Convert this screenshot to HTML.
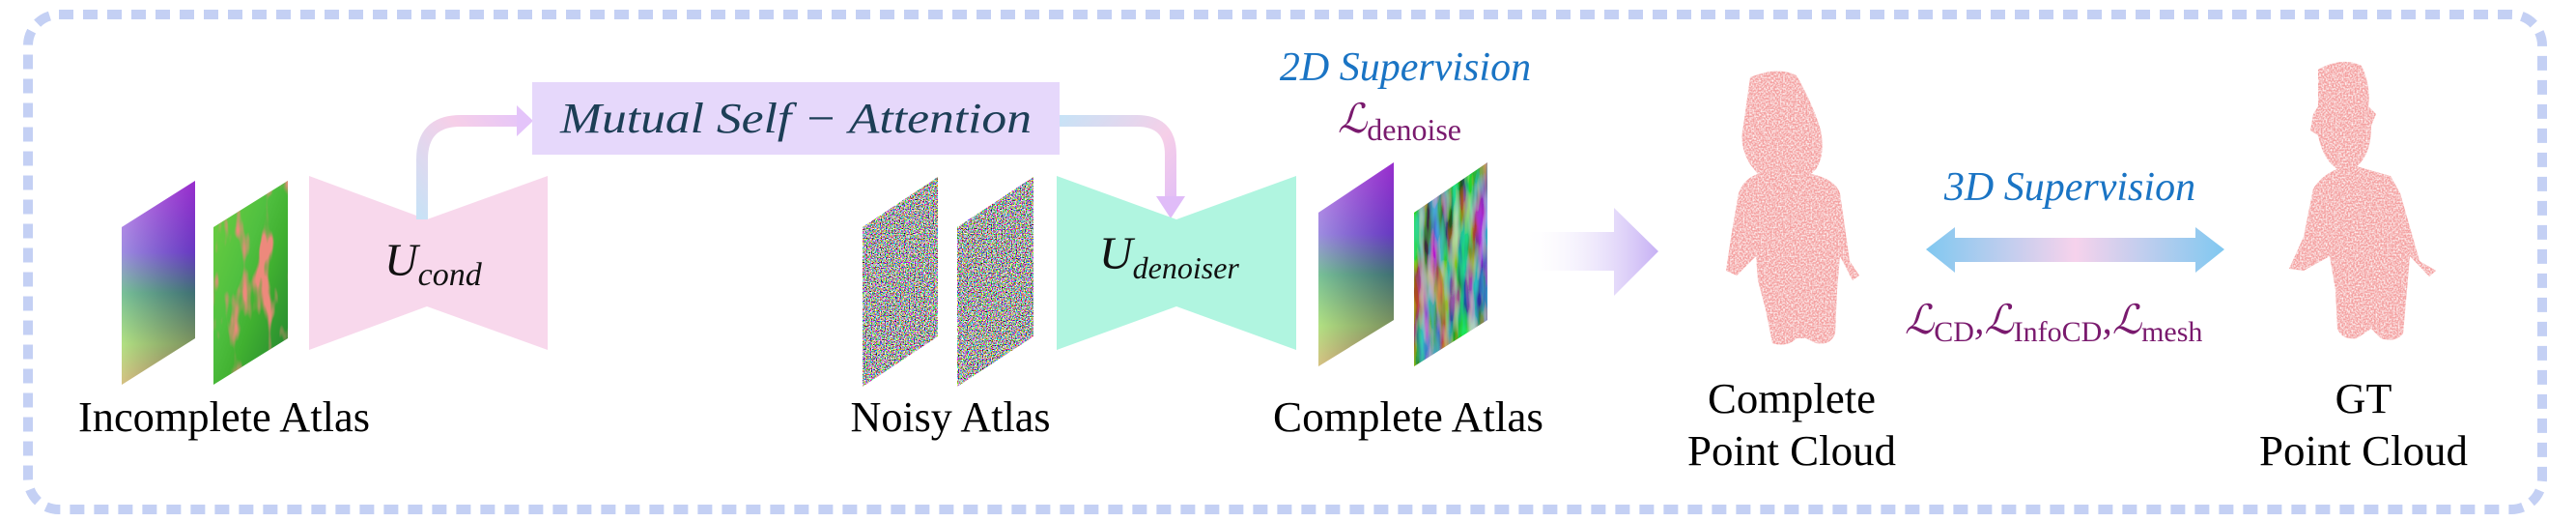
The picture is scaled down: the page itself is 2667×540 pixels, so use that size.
<!DOCTYPE html>
<html><head><meta charset="utf-8"><style>
html,body{margin:0;padding:0;background:#fff;}
svg{display:block;}
svg text, svg tspan{font-family:"Liberation Serif","DejaVu Serif",serif !important;}
</style></head><body>
<svg width="2667" height="540" viewBox="0 0 2667 540" xmlns="http://www.w3.org/2000/svg" font-family="'Liberation Serif', 'Times New Roman', 'DejaVu Serif', serif">
<defs>
<linearGradient id="g1" x1="0" y1="0" x2="0" y2="1"><stop offset="0" stop-color="#b040e0"/><stop offset="0.35" stop-color="#6a50d0"/><stop offset="0.55" stop-color="#30a060"/><stop offset="0.8" stop-color="#88d040"/><stop offset="1" stop-color="#c0a040"/></linearGradient>
<linearGradient id="g1h" x1="0" y1="0" x2="1" y2="0"><stop offset="0" stop-color="#ffffff" stop-opacity="0.35"/><stop offset="1" stop-color="#6000a0" stop-opacity="0.3"/></linearGradient>
<linearGradient id="g2" x1="0" y1="0" x2="1" y2="1"><stop offset="0" stop-color="#70d040"/><stop offset="0.4" stop-color="#50c040"/><stop offset="0.6" stop-color="#40b030"/><stop offset="1" stop-color="#208030"/></linearGradient>
<linearGradient id="g3" x1="0" y1="0" x2="1" y2="0"><stop offset="0" stop-color="#60b040"/><stop offset="0.3" stop-color="#a030c0"/><stop offset="0.5" stop-color="#50c040"/><stop offset="0.7" stop-color="#40c040"/><stop offset="1" stop-color="#8040d0"/></linearGradient>
<linearGradient id="ga1" gradientUnits="userSpaceOnUse" x1="437" y1="227" x2="551" y2="125"><stop offset="0" stop-color="#c8e2f6"/><stop offset="0.6" stop-color="#f6cfe8"/><stop offset="1" stop-color="#e4c4fa"/></linearGradient>
<linearGradient id="ga2" gradientUnits="userSpaceOnUse" x1="1097" y1="125" x2="1212" y2="227"><stop offset="0" stop-color="#c8e2f6"/><stop offset="0.6" stop-color="#f6cfe8"/><stop offset="1" stop-color="#e0bcf8"/></linearGradient>
<linearGradient id="gb" x1="0" y1="0" x2="1" y2="0"><stop offset="0" stop-color="#ffffff" stop-opacity="0"/><stop offset="1" stop-color="#c6b0f4"/></linearGradient>
<linearGradient id="gd" x1="0" y1="0" x2="1" y2="0"><stop offset="0" stop-color="#80c8f0"/><stop offset="0.5" stop-color="#f6d2ec"/><stop offset="1" stop-color="#80c8f0"/></linearGradient>
<filter id="noise" x="0" y="0" width="1" height="1"><feTurbulence type="fractalNoise" baseFrequency="0.8" numOctaves="1" seed="3"/><feColorMatrix type="matrix" values="5 0 0 0 -2  0 5 0 0 -2  0 0 5 0 -2  0 0 0 0 1"/></filter>
<filter id="tex" x="0" y="0" width="1" height="1"><feTurbulence type="fractalNoise" baseFrequency="0.06 0.015" numOctaves="3" seed="7"/><feColorMatrix type="matrix" values="0 0 0 0 0.85  0 0 0 0 0.25  0 0 0 0 0.2  0 0 0 7 -3.8"/></filter>
<filter id="tex2" x="0" y="0" width="1" height="1"><feTurbulence type="fractalNoise" baseFrequency="0.1 0.015" numOctaves="3" seed="11"/><feColorMatrix type="matrix" values="3 0 0 0 -1.3  0 3 0 0 -1.0  0 0 3 0 -1.1  0 0 0 0 0.55"/></filter>
<filter id="speck"><feTurbulence type="fractalNoise" baseFrequency="0.6" numOctaves="1" seed="5" result="t"/><feColorMatrix in="t" type="matrix" values="0 0 0 0 1  0 0 0 0 1  0 0 0 0 1  0 0 0 -2.2 1.35" result="m"/><feComposite in="m" in2="SourceGraphic" operator="in" result="w"/><feMerge><feMergeNode in="SourceGraphic"/><feMergeNode in="w"/></feMerge></filter>
<clipPath id="cn1"><polygon points="893,235 971,183 971,348 893,400"/></clipPath>
<clipPath id="cn2"><polygon points="991,235 1070,183 1070,348 991,400"/></clipPath>
<clipPath id="ca2"><polygon points="221,235 298,187 298,350 221,398"/></clipPath>
<clipPath id="cc2"><polygon points="1464,220 1540,168 1540,331 1464,379"/></clipPath>
</defs>

<rect x="29" y="15" width="2603" height="512" rx="32" fill="none" stroke="#c4d0f4" stroke-width="10" stroke-dasharray="15 10"/>

<polygon points="126,235 202,187 202,350 126,398" fill="url(#g1)"/>
<polygon points="126,235 202,187 202,350 126,398" fill="url(#g1h)"/>
<polygon points="221,235 298,187 298,350 221,398" fill="url(#g2)"/>
<g clip-path="url(#ca2)"><rect x="221" y="187" width="77" height="211" filter="url(#tex)"/></g>

<polygon points="320,182 442,227 567,182 567,362 442,317 320,362" fill="#f8d8ec"/>
<text x="398" y="285" font-size="48" font-style="italic" fill="#111">U<tspan font-size="34" dy="10">cond</tspan></text>

<path d="M437,227 V165 Q437,125 477,125 H537" fill="none" stroke="url(#ga1)" stroke-width="12"/>
<polygon points="535,109 552,125 535,141" fill="#e4c4fa"/>

<rect x="551" y="85" width="546" height="75" fill="#e6d8fb"/>
<text x="824" y="137" font-size="44" font-style="italic" fill="#1d3e56" text-anchor="middle" textLength="488" lengthAdjust="spacingAndGlyphs">Mutual Self − Attention</text>

<path d="M1097,125 H1177 Q1212,125 1212,160 V207" fill="none" stroke="url(#ga2)" stroke-width="12"/>
<polygon points="1197,203 1227,203 1212,226" fill="#e0bcf8"/>

<g clip-path="url(#cn1)"><rect x="893" y="183" width="78" height="217" filter="url(#noise)"/></g>
<g clip-path="url(#cn2)"><rect x="991" y="183" width="79" height="217" filter="url(#noise)"/></g>

<polygon points="1094,182 1218,227 1342,182 1342,362 1218,317 1094,362" fill="#b0f5e0"/>
<text x="1138" y="278" font-size="48" font-style="italic" fill="#111">U<tspan font-size="32" dy="10">denoiser</tspan></text>

<text x="1455" y="83" font-size="42" font-style="italic" fill="#1a74c4" text-anchor="middle">2D Supervision</text>
<text x="1385" y="137" font-size="42" font-style="italic" fill="#7a1a6e">ℒ<tspan font-style="normal" font-size="32" dy="8">denoise</tspan></text>

<polygon points="1365,220 1443,168 1443,331 1365,379" fill="url(#g1)"/>
<polygon points="1365,220 1443,168 1443,331 1365,379" fill="url(#g1h)"/>
<polygon points="1464,220 1540,168 1540,331 1464,379" fill="url(#g3)"/>
<g clip-path="url(#cc2)"><rect x="1464" y="168" width="76" height="211" filter="url(#tex2)"/></g>

<polygon points="1575,240 1671,240 1671,215 1717,260 1671,306 1671,280 1575,280" fill="url(#gb)"/>

<g fill="#f4a0a0" filter="url(#speck)">
<path d="M1812,80 Q1840,68 1860,78 Q1878,110 1885,135 Q1890,160 1880,175 L1875,180 Q1900,185 1905,200 L1915,270 L1925,285 L1918,290 L1905,265 L1902,300 L1900,345 Q1895,358 1880,355 L1870,350 L1860,350 Q1850,360 1835,355 L1828,320 L1820,290 L1818,265 L1798,285 L1787,280 L1793,240 L1800,200 Q1805,185 1820,180 L1812,170 Q1800,150 1805,130 Z"/>
</g>

<text x="2143" y="207" font-size="42" font-style="italic" fill="#1a74c4" text-anchor="middle">3D Supervision</text>
<polygon points="1994,258 2024,235 2024,246 2273,246 2273,235 2303,258 2273,282 2273,271 2024,271 2024,282" fill="url(#gd)"/>
<text x="1972" y="345" font-size="42" font-style="italic" fill="#7a1a6e">ℒ<tspan font-style="normal" font-size="30" dy="8">CD</tspan><tspan dy="-8">,ℒ</tspan><tspan font-style="normal" font-size="30" dy="8">InfoCD</tspan><tspan dy="-8">,ℒ</tspan><tspan font-style="normal" font-size="30" dy="8">mesh</tspan></text>

<g fill="#f4a0a0" filter="url(#speck)">
<path d="M2400,72 Q2425,58 2445,68 Q2455,90 2452,110 L2460,118 L2455,130 Q2455,160 2440,172 Q2460,178 2475,182 L2485,200 L2505,270 L2522,280 L2515,286 L2495,265 L2492,300 L2488,345 Q2480,355 2465,350 L2455,340 L2440,350 Q2425,352 2420,340 L2418,300 L2412,265 L2385,280 L2370,278 L2385,245 L2395,195 Q2405,180 2420,175 Q2405,165 2400,140 L2392,135 L2395,118 L2400,110 Z"/>
</g>

<g font-size="44" fill="#000" text-anchor="middle">
<text x="232" y="446" textLength="302" lengthAdjust="spacingAndGlyphs">Incomplete Atlas</text>
<text x="984" y="446" textLength="207" lengthAdjust="spacingAndGlyphs">Noisy Atlas</text>
<text x="1458" y="446" textLength="280" lengthAdjust="spacingAndGlyphs">Complete Atlas</text>
<text x="1855" y="427" textLength="174" lengthAdjust="spacingAndGlyphs">Complete</text>
<text x="1855" y="481" textLength="216" lengthAdjust="spacingAndGlyphs">Point Cloud</text>
<text x="2447" y="427">GT</text>
<text x="2447" y="481" textLength="216" lengthAdjust="spacingAndGlyphs">Point Cloud</text>
</g>
</svg>
</body></html>
